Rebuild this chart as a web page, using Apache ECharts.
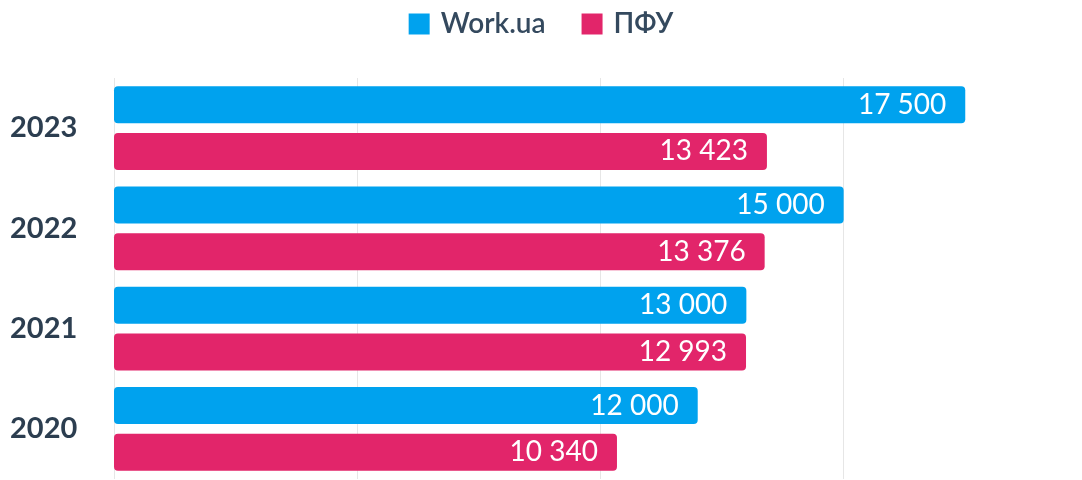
<!DOCTYPE html>
<html>
<head>
<meta charset="utf-8">
<script src="https://cdn.jsdelivr.net/npm/echarts@6/dist/echarts.min.js"></script>
<style>
  html, body { margin: 0; padding: 0; background: #fff; }
  #chart { width: 1082px; height: 480px; }
</style>
</head>
<body>
<div id="chart"></div>
<script>
const years = ['2020', '2021', '2022', '2023'];
const workUa = [12000, 13000, 15000, 17500];
const pfu = [10340, 12993, 13376, 13423];
const seriesNames = ['Work.ua', 'ПФУ'];
const colors = ['#00a2ee', '#e2256a'];

const font = 'Lato, "Open Sans", sans-serif';

function formatValue(v) {
  return String(v).replace(/\B(?=(\d{3})+(?!\d))/g, ' ');
}

const chart = echarts.init(document.getElementById('chart'));

function barSeries(name, data, color) {
  return {
    name: name,
    type: 'bar',
    data: data,
    barWidth: 37,
    barGap: '26%',
    itemStyle: { color: color, borderRadius: 4 },
    label: {
      show: true,
      position: 'insideRight',
      distance: 19,
      color: '#fff',
      fontFamily: font,
      fontSize: 28,
      formatter: (p) => formatValue(p.value),
    },
  };
}

chart.setOption({
  backgroundColor: '#fff',
  animation: false,
  color: colors,
  legend: {
    top: 5,
    left: 'center',
    itemWidth: 21,
    itemHeight: 21,
    itemGap: 36,
    icon: 'rect',
    textStyle: { fontFamily: font, fontSize: 28, fontWeight: 600, color: '#34495e', padding: [0, 0, 0, 6] },
    data: seriesNames,
  },
  grid: { left: 114, right: 0, top: 78, bottom: 1 },
  xAxis: {
    type: 'value',
    min: 0,
    max: 19900,
    interval: 5000,
    axisLabel: { show: false },
    axisLine: { show: false },
    axisTick: { show: false },
    splitLine: { showMaxLine: false, lineStyle: { color: '#e6e6e6', width: 1 } },
  },
  yAxis: {
    type: 'category',
    data: years,
    axisLine: { show: false },
    axisTick: { show: false },
    axisLabel: {
      align: 'left',
      margin: 104,
      color: '#2c3e50',
      fontFamily: font,
      fontWeight: 700,
      fontSize: 29,
      padding: [12, 0, 0, 0],
    },
  },
  series: [
    barSeries(seriesNames[0], workUa, colors[0]),
    barSeries(seriesNames[1], pfu, colors[1]),
  ],
});
</script>
</body>
</html>
